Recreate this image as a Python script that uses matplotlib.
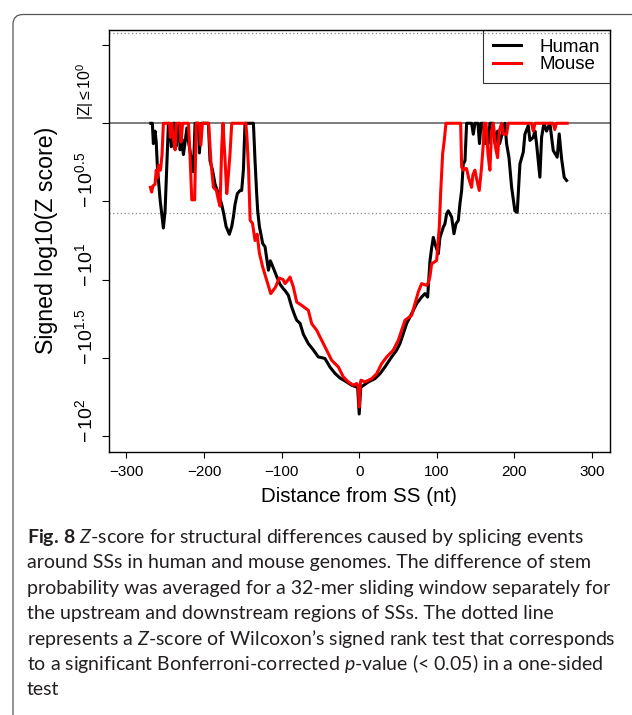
import matplotlib
matplotlib.use("Agg")
import matplotlib.pyplot as plt
from matplotlib.patches import FancyBboxPatch

plt.rcParams["font.family"] = ["Liberation Sans", "DejaVu Sans"]
plt.rcParams["mathtext.fontset"] = "custom"
plt.rcParams["mathtext.rm"] = "Lato"
plt.rcParams["mathtext.it"] = "Lato:italic"
plt.rcParams["mathtext.bf"] = "Lato:bold"

# signed log10(Z), distance from SS in nt
human_x = [-268.5, -266.5, -265.2, -263.0, -261.5, -260.0, -256.5, -252.3, -250.1, -247.9,
           -245.8, -243.7, -242.0, -239.4, -237.2, -236.2, -234.0, -231.8, -230.8, -228.5,
           -226.5, -224.3, -222.0, -219.5, -216.5, -213.6, -211.5, -207.2, -205.9, -203.5,
           -194.3, -192.2, -189.0, -185.7, -181.4, -177.1, -174.5, -171.5, -169.0, -167.3,
           -164.2, -162.1, -160.0, -157.0, -153.5, -151.4, -149.2, -147.1, -136.3, -134.2,
           -132.1, -130.8, -128.6, -124.3, -121.3, -117.0, -114.5, -112.7, -106.3, -102.0,
           -97.5, -95.6, -91.3, -87.0, -83.0, -80.5, -76.2, -71.9, -65.5, -59.1,
           -52.6, -48.0, -44.1, -37.6, -31.2, -24.7, -16.2, -9.7, -2.0, 0.0,
           2.0, 6.0, 11.8, 20.3, 26.8, 33.2, 41.8, 48.2, 52.5, 56.8,
           61.1, 65.4, 69.7, 74.0, 80.4, 84.7, 88.2, 91.2, 93.3, 95.5,
           97.6, 101.9, 104.1, 108.4, 110.5, 112.6, 114.8, 119.1, 122.1, 124.7,
           127.7, 129.8, 132.0, 134.1, 136.3, 138.4, 144.8, 147.0, 149.1, 153.0,
           155.0, 157.0, 160.0, 162.0, 164.0, 166.3, 168.4, 172.7, 174.9, 178.3,
           181.0, 183.5, 187.8, 189.9, 193.0, 196.4, 200.6, 203.6, 207.1, 211.4,
           213.5, 217.8, 220.0, 224.2, 226.5, 228.5, 232.8, 235.0, 238.0, 241.4,
           245.7, 250.0, 255.1, 257.7, 260.8, 264.1, 267.2]
human_y = [0.0, 0.0, -0.13, -0.05, -0.12, -0.28, -0.49, -0.67, -0.56, -0.28,
           0.0, -0.06, -0.15, 0.0, 0.0, -0.15, -0.08, 0.0, -0.17, -0.10,
           -0.20, -0.12, -0.03, -0.13, -0.22, -0.31, 0.0, 0.0, -0.19, 0.0,
           0.0, -0.24, -0.30, -0.39, -0.45, -0.52, -0.58, -0.66, -0.69, -0.71,
           -0.66, -0.60, -0.52, -0.45, -0.43, -0.43, -0.30, 0.0, 0.0, -0.24,
           -0.45, -0.56, -0.66, -0.77, -0.79, -0.94, -0.88, -0.90, -0.98, -1.03,
           -1.06, -1.07, -1.10, -1.175, -1.23, -1.26, -1.28, -1.35, -1.41, -1.45,
           -1.495, -1.50, -1.505, -1.56, -1.60, -1.63, -1.655, -1.676, -1.69, -1.86,
           -1.69, -1.675, -1.655, -1.634, -1.602, -1.559, -1.495, -1.452, -1.41, -1.346,
           -1.282, -1.24, -1.197, -1.154, -1.112, -1.09, -1.112, -0.88, -0.80, -0.73,
           -0.77, -0.835, -0.73, -0.664, -0.643, -0.58, -0.56, -0.60, -0.707, -0.643,
           -0.622, -0.515, -0.43, -0.26, -0.24, 0.0, 0.0, -0.07, 0.0, 0.0,
           -0.13, 0.0, 0.0, -0.13, -0.06, -0.13, 0.0, 0.0, -0.13, -0.05,
           -0.13, -0.08, 0.0, -0.13, -0.22, -0.41, -0.56, -0.57, -0.26, -0.185,
           -0.07, -0.015, -0.11, -0.09, -0.05, -0.13, -0.345, -0.09, 0.0, -0.05,
           0.0, -0.174, -0.217, -0.068, -0.228, -0.345, -0.366]

mouse_x = [-269.0, -267.5, -265.5, -263.0, -261.5, -260.0, -258.5, -256.0, -254.0, -252.3,
           -244.5, -243.2, -241.5, -239.0, -237.2, -235.5, -231.0, -229.5, -227.5, -220.0,
           -218.0, -215.7, -212.0, -210.0, -206.0, -204.0, -202.0, -194.0, -191.0, -187.8,
           -184.0, -181.4, -179.3, -177.1, -175.5, -173.0, -170.6, -168.5, -166.5, -164.2,
           -146.0, -144.5, -142.5, -140.5, -137.5, -134.2, -131.5, -128.6, -124.3, -119.5,
           -114.0, -108.0, -103.0, -98.0, -95.6, -92.1, -89.1, -84.8, -80.5, -74.1,
           -65.5, -61.2, -54.8, -48.3, -41.9, -35.5, -26.9, -20.4, -14.0, -7.6,
           -3.3, -1.0, 0.0, 1.5, 2.3, 7.5, 16.1, 22.5, 28.9, 35.4,
           43.9, 50.4, 54.7, 59.0, 67.6, 71.9, 76.1, 80.4, 86.9, 89.0,
           91.2, 93.3, 99.8, 103.2, 104.9, 107.5, 109.6, 111.8, 130.7, 132.0,
           134.1, 136.3, 138.4, 141.0, 144.8, 146.5, 149.1, 151.5, 154.7, 157.7,
           159.9, 161.2, 163.5, 166.0, 168.4, 170.6, 172.7, 175.5, 178.3, 180.5,
           183.5, 186.0, 189.9, 192.1, 222.0, 224.3, 226.5, 250.0, 252.0, 254.0,
           268.0]
mouse_y = [-0.41, -0.44, -0.40, -0.39, -0.30, -0.35, -0.27, -0.30, -0.20, 0.0,
           0.0, -0.09, 0.0, -0.11, -0.17, 0.0, 0.0, -0.12, 0.0, 0.0,
           -0.20, -0.49, -0.49, 0.0, 0.0, -0.14, 0.0, 0.0, -0.25, -0.41,
           -0.43, -0.49, -0.53, -0.15, 0.0, -0.22, -0.45, -0.33, -0.20, 0.0,
           0.0, -0.10, -0.30, -0.62, -0.64, -0.75, -0.71, -0.83, -0.92, -1.00,
           -1.09, -1.05, -0.99, -1.00, -1.026, -1.005, -0.984, -1.048, -1.144, -1.165,
           -1.197, -1.282, -1.324, -1.388, -1.452, -1.516, -1.559, -1.623, -1.655, -1.676,
           -1.665, -1.69, -1.815, -1.66, -1.644, -1.655, -1.634, -1.602, -1.538, -1.495,
           -1.452, -1.388, -1.324, -1.26, -1.229, -1.154, -1.080, -1.026, -1.037, -1.02,
           -0.98, -0.90, -0.877, -0.664, -0.451, -0.196, -0.11, 0.0, 0.0, -0.28,
           -0.30, -0.29, -0.29, -0.35, -0.41, -0.33, -0.30, -0.36, -0.43, -0.28,
           -0.13, 0.0, 0.0, -0.20, -0.30, -0.05, 0.0, -0.15, -0.22, -0.05,
           0.0, -0.07, -0.07, 0.0, 0.0, -0.05, 0.0, 0.0, -0.04, 0.0,
           0.0]

x_ticks = [-300, -200, -100, 0, 100, 200, 300]
y_ticks = [0.5, 0.0, -0.5, -1.0, -1.5, -2.0]
y_labels = [r"$\mathregular{|Z|\leq10^{0}}$", r"$\mathregular{-\,10^{0.5}}$",
            r"$\mathregular{-\,10^{1}}$", r"$\mathregular{-\,10^{1.5}}$", r"$\mathregular{-\,10^{2}}$"]
y_label_at = [0.0, -0.5, -1.0, -1.5, -2.0]
sig_level = 0.577

caption = [
    r"$\mathbf{Fig.\,8}$ $\mathit{Z}$-score for structural differences caused by splicing events",
    "around SSs in human and mouse genomes. The difference of stem",
    "probability was averaged for a 32-mer sliding window separately for",
    "the upstream and downstream regions of SSs. The dotted line",
    r"represents a $\mathit{Z}$-score of Wilcoxon’s signed rank test that corresponds",
    r"to a significant Bonferroni-corrected $\mathit{p}$-value (< 0.05) in a one-sided",
    "test",
]

W, H = 632, 715
fig = plt.figure(figsize=(W / 100, H / 100), dpi=100)

# card outline around figure + caption
card = FancyBboxPatch((0.13, -0.5), 7.5, 7.005 + 0.5, boxstyle="round,pad=0,rounding_size=0.1",
                      transform=fig.dpi_scale_trans, facecolor="none", edgecolor="#555555",
                      linewidth=0.9)
fig.patches.append(card)

ax = fig.add_axes([108.5 / W, 1 - 451.5 / H, 501 / W, 422 / H])
ax.axhline(0, color="#666666", linewidth=1.2, zorder=1)
for lvl in (sig_level, -sig_level):
    ax.axhline(lvl, color="#888888", linewidth=0.9, linestyle=(0, (1, 2)), zorder=1)

ax.plot(human_x, human_y, color="black", linewidth=2.2, label="Human", zorder=2)
ax.plot(mouse_x, mouse_y, color="#ff0000", linewidth=2.2, label="Mouse", zorder=3)

ax.set_xlim(-323, 322.5)
ax.set_ylim(-2.1, 0.6)
ax.set_xticks(x_ticks)
ax.set_xticklabels([str(t).replace("-", "\u2212") for t in x_ticks])
ax.set_yticks(y_ticks)
ax.set_yticklabels([])
ax.tick_params(axis="x", length=4.3, width=0.8, pad=5.5, labelsize=11)
ax.tick_params(axis="y", length=5, width=0.8)
for sp in ax.spines.values():
    sp.set_linewidth(1.0)

for lab, yv in zip(y_labels, y_label_at):
    if yv == 0:
        ax.text(-0.024, yv + 0.02, lab, transform=ax.get_yaxis_transform(), rotation=90,
                ha="right", va="bottom", fontsize=11.5)
    else:
        ax.text(-0.024, yv - 0.045, lab, transform=ax.get_yaxis_transform(), rotation=90,
                ha="right", va="bottom", fontsize=14)

ax.set_xlabel("Distance from SS (nt)", fontsize=14.8, labelpad=6)
ax.set_ylabel("Signed log10(Z score)", fontsize=16.7)
ax.yaxis.set_label_coords(-0.10, 0.5)

leg = ax.legend(loc="upper right", bbox_to_anchor=(1, 1), borderaxespad=0, fontsize=13.5,
                fancybox=False, edgecolor="black", facecolor="none",
                handlelength=1.5, handletextpad=1.0, borderpad=0.5, labelspacing=0.0)
leg.get_frame().set_linewidth(0.8)

for i, line in enumerate(caption):
    fig.text(27 / W, 1 - (543 + 25.4 * i) / H, line, fontsize=14, family="Lato",
             color="#231f20", va="baseline", ha="left")

fig.savefig("out.png", dpi=100)
